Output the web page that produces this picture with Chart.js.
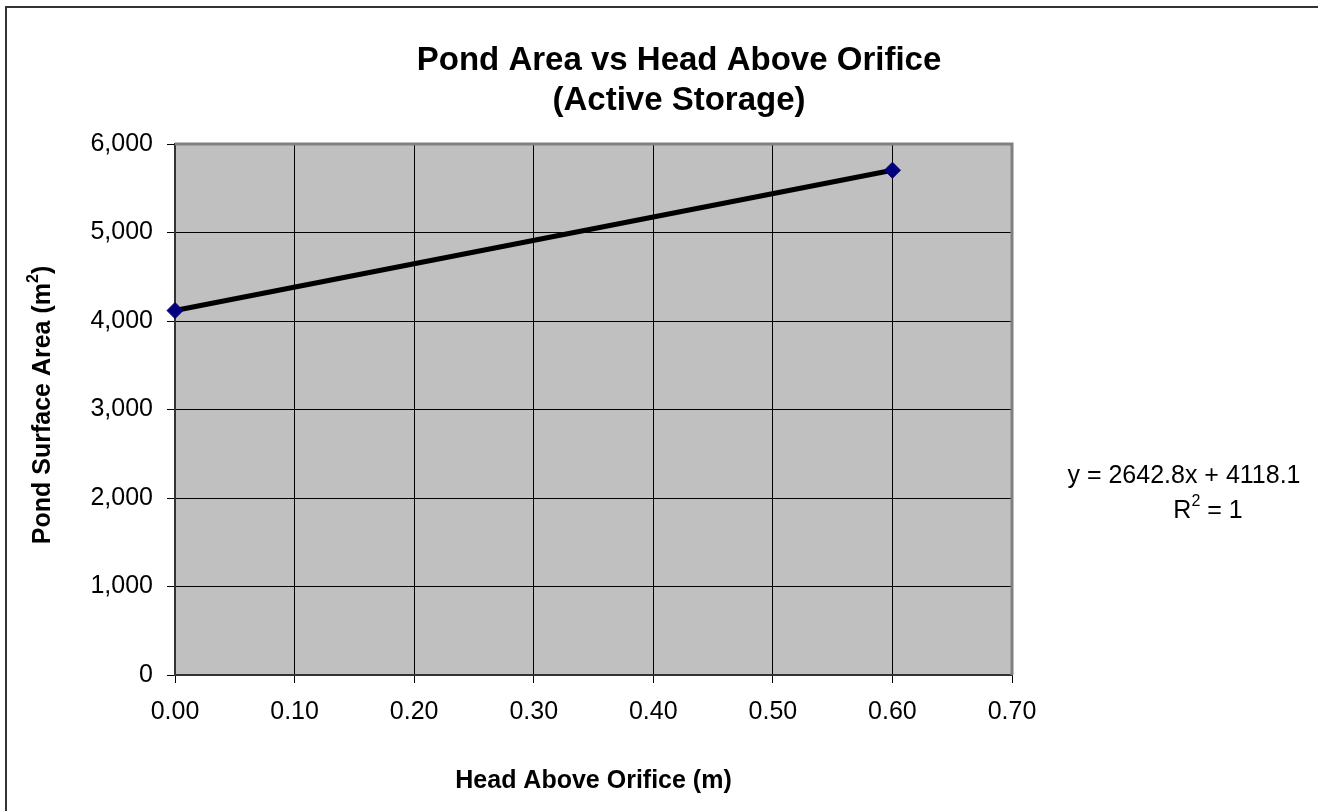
<!DOCTYPE html>
<html>
<head>
<meta charset="utf-8">
<title>Pond Area vs Head Above Orifice</title>
<script src="https://cdn.jsdelivr.net/npm/chart.js@4.4.1/dist/chart.umd.min.js"></script>
<style>
  html, body { margin: 0; padding: 0; background: #ffffff; }
  #wrap { width: 1318px; height: 811px; position: relative; }
  canvas { display: block; }
</style>
</head>
<body>
<div id="wrap"><canvas id="chart" width="1318" height="811"></canvas></div>
<script>
// Head above the orifice (m) and the matching pond surface area (m²)
const headValues = [0.00, 0.60];
const areaValues = [4118.1, 5703.8];

// Axis ranges and tick spacing
const xTicks = { min: 0, max: 0.7, step: 0.1 };
const yTicks = { min: 0, max: 6000, step: 1000 };

// Text
const titleLines = ['Pond Area vs Head Above Orifice', '(Active Storage)'];
const xTitle = 'Head Above Orifice (m)';
const yTitle = 'Pond Surface Area (m';
const yTitleSup = '2';
const yTitleEnd = ')';
const trendEquation = 'y = 2642.8x + 4118.1';
const trendR = 'R';
const trendRSup = '2';
const trendREnd = ' = 1';

const FONT = '"Liberation Sans", Arial, Helvetica, sans-serif';

const points = headValues.map((h, i) => ({ x: h, y: areaValues[i] }));

// Draws the plot background, the frame, titles and the trendline label
const decorations = {
  id: 'decorations',
  beforeDraw(chart) {
    const { ctx, chartArea: a } = chart;
    ctx.save();
    ctx.fillStyle = '#ffffff';
    ctx.fillRect(0, 0, chart.width, chart.height);
    ctx.fillStyle = '#c0c0c0';
    ctx.fillRect(a.left, a.top, a.right - a.left, a.bottom - a.top);
    // outer chart frame
    ctx.strokeStyle = '#333333';
    ctx.lineWidth = 2;
    ctx.strokeRect(6, 7, chart.width + 20, chart.height + 20);
    ctx.restore();
  },
  beforeDatasetsDraw(chart) {
    const { ctx, chartArea: a } = chart;
    ctx.save();
    ctx.strokeStyle = '#808080';
    ctx.lineWidth = 3;
    ctx.beginPath();
    ctx.moveTo(a.left, a.top);
    ctx.lineTo(a.right, a.top);
    ctx.lineTo(a.right, a.bottom);
    ctx.stroke();
    ctx.restore();
  },
  afterDraw(chart) {
    const { ctx, chartArea: a } = chart;
    ctx.save();
    ctx.fillStyle = '#000000';
    ctx.textAlign = 'center';
    ctx.textBaseline = 'middle';

    // chart title
    ctx.font = 'bold 33px ' + FONT;
    ctx.fillText(titleLines[0], 679, 61);
    ctx.fillText(titleLines[1], 679, 101);

    // x axis title
    ctx.font = 'bold 25px ' + FONT;
    ctx.fillText(xTitle, (a.left + a.right) / 2, 781);

    // y axis title with superscript
    ctx.save();
    ctx.translate(43, 405);
    ctx.rotate(-Math.PI / 2);
    const mainFont = 'bold 25px ' + FONT;
    const supFont = 'bold 16px ' + FONT;
    ctx.font = mainFont;
    const w1 = ctx.measureText(yTitle).width;
    const w3 = ctx.measureText(yTitleEnd).width;
    ctx.font = supFont;
    const w2 = ctx.measureText(yTitleSup).width;
    let x0 = -(w1 + w2 + w3) / 2;
    ctx.textAlign = 'left';
    ctx.font = mainFont;
    ctx.fillText(yTitle, x0, 0);
    ctx.font = supFont;
    ctx.fillText(yTitleSup, x0 + w1, -9);
    ctx.font = mainFont;
    ctx.fillText(yTitleEnd, x0 + w1 + w2, 0);
    ctx.restore();

    // trendline label
    ctx.font = '25px ' + FONT;
    ctx.textAlign = 'center';
    ctx.fillText(trendEquation, 1184, 476);
    const rFont = '25px ' + FONT;
    const rSupFont = '16px ' + FONT;
    ctx.font = rFont;
    const r1 = ctx.measureText(trendR).width;
    const r3 = ctx.measureText(trendREnd).width;
    ctx.font = rSupFont;
    const r2 = ctx.measureText(trendRSup).width;
    let rx = 1208 - (r1 + r2 + r3) / 2;
    ctx.textAlign = 'left';
    ctx.font = rFont;
    ctx.fillText(trendR, rx, 511);
    ctx.font = rSupFont;
    ctx.fillText(trendRSup, rx + r1, 502);
    ctx.font = rFont;
    ctx.fillText(trendREnd, rx + r1 + r2, 511);
    ctx.restore();
  }
};

new Chart(document.getElementById('chart'), {
  type: 'scatter',
  data: {
    datasets: [{
      data: points,
      showLine: true,
      clip: false,
      borderColor: '#000000',
      borderWidth: 5,
      pointStyle: 'rectRot',
      pointRadius: 8,
      pointHoverRadius: 8,
      pointBackgroundColor: '#000080',
      pointBorderColor: '#000066',
      pointBorderWidth: 1
    }]
  },
  options: {
    responsive: false,
    animation: false,
    events: [],
    layout: { padding: { left: 0, top: 144, right: 306, bottom: 0 } },
    plugins: {
      legend: { display: false },
      title: { display: false },
      tooltip: { enabled: false }
    },
    scales: {
      x: {
        type: 'linear',
        min: xTicks.min,
        max: xTicks.max,
        afterFit(scale) { scale.height = 136; },
        ticks: {
          stepSize: xTicks.step,
          color: '#000000',
          padding: 14,
          maxRotation: 0,
          autoSkip: false,
          font: { family: FONT, size: 25 },
          callback: v => Number(v).toFixed(2)
        },
        grid: { color: '#000000', lineWidth: 1, tickLength: 8, tickColor: '#000000' },
        border: { color: '#333333', width: 2 }
      },
      y: {
        type: 'linear',
        min: yTicks.min,
        max: yTicks.max,
        afterFit(scale) { scale.width = 175; },
        ticks: {
          stepSize: yTicks.step,
          color: '#000000',
          padding: 14,
          autoSkip: false,
          font: { family: FONT, size: 25 },
          callback: v => Number(v).toLocaleString('en-US')
        },
        grid: { color: '#000000', lineWidth: 1, tickLength: 8, tickColor: '#000000' },
        border: { color: '#333333', width: 2 }
      }
    }
  },
  plugins: [decorations]
});
</script>
</body>
</html>
